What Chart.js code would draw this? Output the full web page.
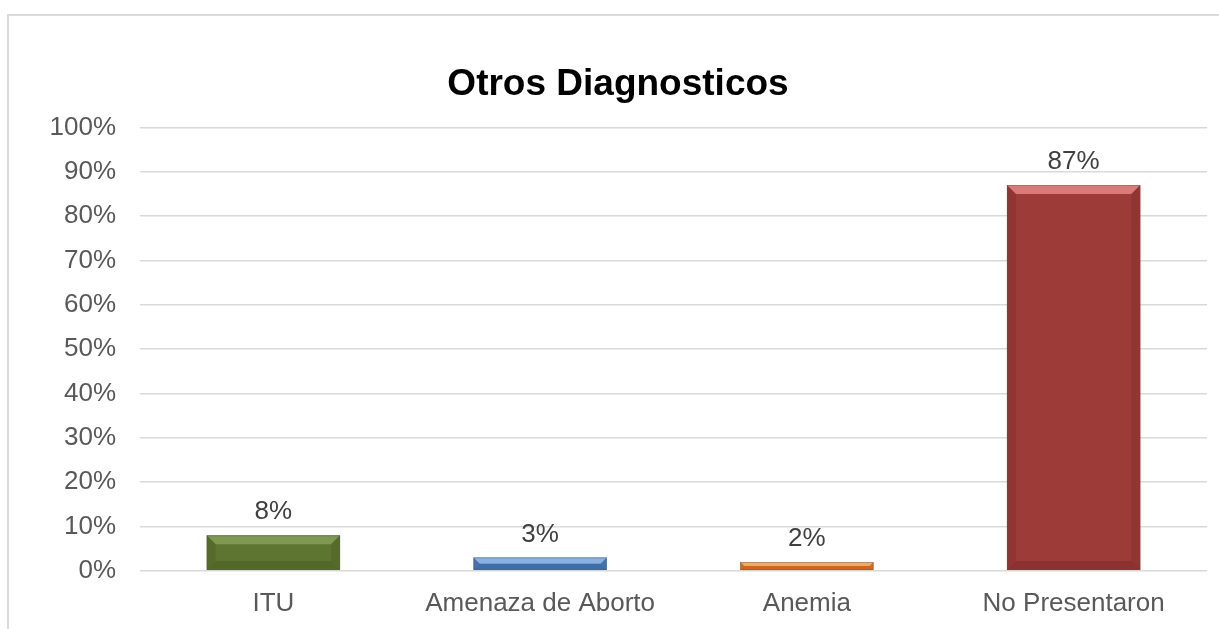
<!DOCTYPE html>
<html>
<head>
<meta charset="utf-8">
<script src="https://cdn.jsdelivr.net/npm/chart.js@4/dist/chart.umd.min.js"></script>
<style>
  html, body { margin: 0; padding: 0; background: #fff; overflow: hidden; }
  #frame {
    position: absolute; left: 7px; top: 14px;
    width: 1224px; height: 640px;
    border-left: 2px solid #d9d9d9; border-top: 2px solid #d9d9d9;
    background: #fff;
  }
  #chart { display: block; }
</style>
</head>
<body>
<div id="frame"><canvas id="chart" width="1224" height="640"></canvas></div>
<script>
const chartTitle = 'Otros Diagnosticos';
const categories = ['ITU', 'Amenaza de Aborto', 'Anemia', 'No Presentaron'];
const values = [8, 3, 2, 87];
const barColors = ['#5e7531', '#4a7dba', '#e07a2e', '#9c3b38'];
const lightColors = ['#7f9852', '#8ab2e0', '#f4a868', '#d97b78'];
const darkColors = ['#45571f', '#345d90', '#a85517', '#732826'];

const fontFamily = '"Liberation Sans", Arial, sans-serif';

// bevel look of the original bars + the value labels above them
const bevelPlugin = {
  id: 'bevel',
  afterDatasetsDraw(chart) {
    const ctx = chart.ctx;
    const meta = chart.getDatasetMeta(0);
    meta.data.forEach((bar, i) => {
      const left = bar.x - bar.width / 2;
      const right = bar.x + bar.width / 2;
      const top = bar.y;
      const bottom = bar.base;
      const h = bottom - top;
      const b = Math.min(9, h / 2);
      ctx.save();
      // top bevel
      ctx.fillStyle = lightColors[i];
      ctx.beginPath();
      ctx.moveTo(left, top);
      ctx.lineTo(right, top);
      ctx.lineTo(right - b, top + b);
      ctx.lineTo(left + b, top + b);
      ctx.closePath();
      ctx.fill();
      // side bevels
      ctx.globalAlpha = 0.3;
      ctx.fillStyle = darkColors[i];
      ctx.beginPath();
      ctx.moveTo(right, top);
      ctx.lineTo(right, bottom);
      ctx.lineTo(right - b, bottom - b);
      ctx.lineTo(right - b, top + b);
      ctx.closePath();
      ctx.fill();
      ctx.beginPath();
      ctx.moveTo(left, top);
      ctx.lineTo(left, bottom);
      ctx.lineTo(left + b, bottom - b);
      ctx.lineTo(left + b, top + b);
      ctx.closePath();
      ctx.fill();
      ctx.globalAlpha = 0.45;
      ctx.beginPath();
      ctx.moveTo(left, bottom);
      ctx.lineTo(right, bottom);
      ctx.lineTo(right - b, bottom - b);
      ctx.lineTo(left + b, bottom - b);
      ctx.closePath();
      ctx.fill();
      ctx.globalAlpha = 1;
      ctx.strokeStyle = 'rgba(90,90,90,0.35)';
      ctx.lineWidth = 1;
      ctx.strokeRect(left + 0.5, top + 0.5, bar.width - 1, h - 1);
      // value label
      ctx.fillStyle = '#404040';
      ctx.font = '26px ' + fontFamily;
      ctx.textAlign = 'center';
      ctx.textBaseline = 'middle';
      ctx.fillText(values[i] + '%', bar.x, top - 23);
      ctx.restore();
    });
  }
};

new Chart(document.getElementById('chart'), {
  type: 'bar',
  data: {
    labels: categories,
    datasets: [{
      data: values,
      backgroundColor: barColors,
      borderWidth: 0,
      barPercentage: 1,
      categoryPercentage: 0.5
    }]
  },
  options: {
    responsive: false,
    animation: false,
    layout: { padding: { left: 20, right: 26, top: 0, bottom: 20 } },
    plugins: {
      legend: { display: false },
      tooltip: { enabled: false },
      title: {
        display: true,
        text: chartTitle,
        color: '#000',
        font: { family: fontFamily, size: 37, weight: 'bold' },
        padding: { top: 47, bottom: 20 }
      }
    },
    scales: {
      x: {
        grid: { display: false, drawTicks: false },
        border: { display: false },
        ticks: { color: '#595959', padding: 17, font: { family: fontFamily, size: 26 } }
      },
      y: {
        min: 0,
        max: 100,
        afterFit: (scale) => { scale.width = 111; },
        grid: { color: '#d9d9d9', lineWidth: 1.5, drawTicks: false },
        border: { display: false },
        ticks: {
          stepSize: 10,
          color: '#595959',
          padding: 24,
          font: { family: fontFamily, size: 26 },
          callback: (v) => v + '%'
        }
      }
    }
  },
  plugins: [bevelPlugin]
});
</script>
</body>
</html>
